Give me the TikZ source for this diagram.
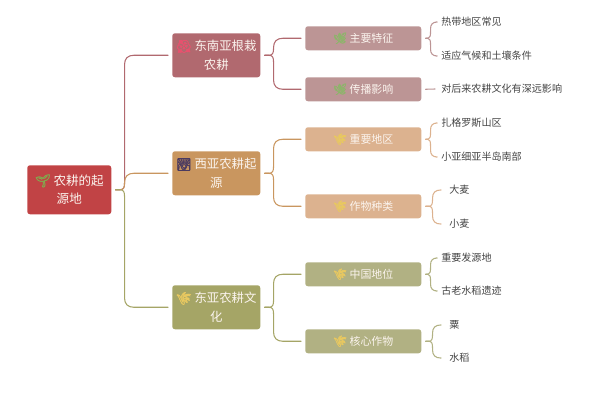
\documentclass[tikz,border=0pt]{standalone}
\usepackage{fontspec}
\setmainfont{Noto Sans CJK SC}
\newfontfamily\emo[FakeBold=2]{Noto Emoji}
\usetikzlibrary{calc}
\definecolor{cRoot}{HTML}{C14345}
\definecolor{cA}{HTML}{B1696F}
\definecolor{cB}{HTML}{C9965F}
\definecolor{cC}{HTML}{A5A566}
\definecolor{cAl}{HTML}{BC9595}
\definecolor{cBl}{HTML}{DCB28F}
\definecolor{cCl}{HTML}{B1B183}
\definecolor{cTxt}{HTML}{FBF4EE}
\definecolor{cLeaf}{HTML}{444444}
\definecolor{eGreen}{HTML}{8DB56A}
\definecolor{eRose}{HTML}{E8516E}
\definecolor{eGold}{HTML}{E8C860}
\definecolor{eSprout}{HTML}{7FAE4E}
\definecolor{ePic}{HTML}{4A3A60}
\tikzset{
  box/.style={rectangle,rounded corners=2pt,inner sep=0pt,text=cTxt,align=center,anchor=north west},
  rootbox/.style={box,fill=cRoot,font=\fontsize{9.4pt}{14pt}\selectfont},
  midbox/.style={box,font=\fontsize{9.3pt}{14pt}\selectfont},
  subbox/.style={box,font=\fontsize{8.2pt}{10pt}\selectfont},
  leaf/.style={anchor=west,inner sep=0pt,text=cLeaf,font=\fontsize{7.55pt}{10pt}\selectfont},
  wire/.style={line width=.8pt,line cap=round,line join=round}
}
% parent, child, colour, gap at child (px), stem offset (px), bend radius (pt)
\newcommand{\conn}[6]{%
  \draw[wire,#3] let \p1=(#1.east),\p2=(#2.west),
    \n1={\y2>\y1 ? 1 : -1} in
    (\x1+3pt,\y1) -- (\x1+3pt+#5*0.35pt,\y1)
    .. controls (\x1+3pt+#5*0.7pt,\y1) and (\x1+3pt+#5*0.75pt,\y1+\n1*2pt) ..
    (\x1+3pt+#5*0.75pt,\y1+\n1*5pt)
    -- (\x1+3pt+#5*0.75pt,\y2-\n1*#6pt)
    .. controls (\x1+3pt+#5*0.75pt,\y2-\n1*#6pt*0.35) and (\x1+3pt+#5*0.75pt+#6pt*0.35,\y2) ..
    (\x1+3pt+#5*0.75pt+#6pt,\y2)
    -- (\x2-#4*0.75pt,\y2);}
\begin{document}
\begin{tikzpicture}[x=0.75pt,y=-0.75pt]
\useasboundingbox (0,0) rectangle (600,400);
% root
\node[rootbox,minimum width=63pt,minimum height=36.75pt] (root) at (27,165)
  {{\emo\textcolor{eSprout}{🌱}} 农耕的起\\源地};
% first level
\node[midbox,fill=cA,minimum width=66pt,minimum height=33pt] (a) at (172,33)
  {{\emo\textcolor{eRose}{🌺}} 东南亚根栽\\农耕};
\node[midbox,fill=cB,minimum width=66pt,minimum height=33pt] (b) at (172,151)
  {{\emo\textcolor{ePic}{🌄}} 西亚农耕起\\源};
\node[midbox,fill=cC,minimum width=66pt,minimum height=33pt] (c) at (172,285)
  {{\emo\textcolor{eGold}{🌾}} 东亚农耕文\\化};
% second level
\node[subbox,fill=cAl,minimum width=87pt,minimum height=18pt] (a1) at (305,26)
  {{\emo\textcolor{eGreen}{🌿}} 主要特征};
\node[subbox,fill=cAl,minimum width=87pt,minimum height=18pt] (a2) at (305,77)
  {{\emo\textcolor{eGreen}{🌿}} 传播影响};
\node[subbox,fill=cBl,minimum width=87pt,minimum height=18pt] (b1) at (305,127)
  {{\emo\textcolor{eGold}{🌾}} 重要地区};
\node[subbox,fill=cBl,minimum width=87pt,minimum height=18pt] (b2) at (305,194)
  {{\emo\textcolor{eGold}{🌾}} 作物种类};
\node[subbox,fill=cCl,minimum width=87pt,minimum height=18pt] (c1) at (305,262)
  {{\emo\textcolor{eGold}{🌾}} 中国地位};
\node[subbox,fill=cCl,minimum width=87pt,minimum height=18pt] (c2) at (305,329)
  {{\emo\textcolor{eGold}{🌾}} 核心作物};
% leaves
\node[leaf] (a11) at (441,22) {热带地区常见};
\node[leaf] (a12) at (441,56) {适应气候和土壤条件};
\node[leaf] (a21) at (441,89) {对后来农耕文化有深远影响};
\node[leaf] (b11) at (441,123) {扎格罗斯山区};
\node[leaf] (b12) at (441,157) {小亚细亚半岛南部};
\node[leaf] (b21) at (449,190) {大麦};
\node[leaf] (b22) at (449,224) {小麦};
\node[leaf] (c11) at (441,258) {重要发源地};
\node[leaf] (c12) at (441,291) {古老水稻遗迹};
\node[leaf] (c21) at (449,325) {粟};
\node[leaf] (c22) at (449,358) {水稻};
% connectors
\conn{root}{a}{cA}{4}{9}{7}
\conn{root}{b}{cB}{4}{9}{7}
\conn{root}{c}{cC}{4}{9}{7}
\conn{a}{a1}{cA}{4}{9}{7}
\conn{a}{a2}{cA}{4}{9}{7}
\conn{b}{b1}{cB}{4}{9}{7}
\conn{b}{b2}{cB}{4}{9}{7}
\conn{c}{c1}{cC}{4}{9}{7}
\conn{c}{c2}{cC}{4}{9}{7}
\conn{a1}{a11}{cAl}{5}{5}{5}
\conn{a1}{a12}{cAl}{5}{5}{5}
\draw[wire,cAl] ($(a2.east)+(4,0)$) -- ($(a21.west)+(-6,0)$);
\conn{b1}{b11}{cBl}{5}{5}{5}
\conn{b1}{b12}{cBl}{5}{5}{5}
\conn{b2}{b21}{cBl}{8}{7}{6}
\conn{b2}{b22}{cBl}{8}{7}{6}
\conn{c1}{c11}{cCl}{5}{5}{5}
\conn{c1}{c12}{cCl}{5}{5}{5}
\conn{c2}{c21}{cCl}{8}{7}{6}
\conn{c2}{c22}{cCl}{8}{7}{6}
\end{tikzpicture}
\end{document}
